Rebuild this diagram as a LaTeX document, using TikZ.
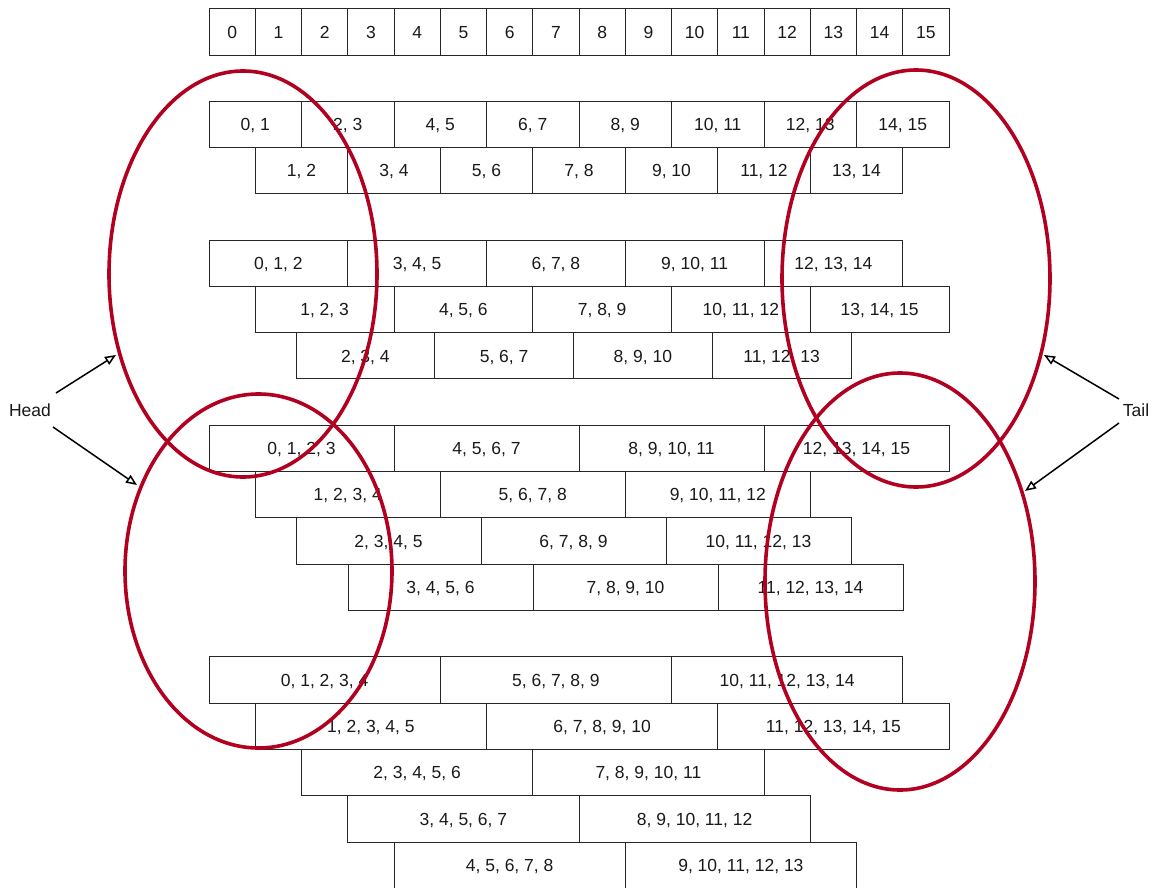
\documentclass[tikz,border=0pt]{standalone}
\usepackage{fontspec}
\setmainfont{Liberation Sans}
\usetikzlibrary{arrows.meta}
\definecolor{ellred}{RGB}{178,0,32}
\tikzset{
  cell/.style={draw=black!85, line width=0.9pt, anchor=north west, outer sep=0pt,
    minimum height=46.3pt, inner sep=0pt, text height=12.5pt, text depth=0pt,
    font=\fontsize{17.5}{20}\selectfont, text=black!90},
  ring/.style={draw=ellred, line width=3.6pt},
  pointer/.style={draw=black, line width=1.5pt, -{Triangle[open, length=11pt, width=9pt]}},
  lbl/.style={font=\fontsize{17.5}{20}\selectfont, text=black!90, inner sep=0pt}
}
\newcommand\cellrow[5]{%
  \foreach \t [count=\i from 0] in {#5} {
    \node[cell, minimum width=#4pt] (#1\i) at ({#3+\i*#4}, #2) {\t};
  }}
\begin{document}
\begin{tikzpicture}[x=1pt, y=-1pt]
\useasboundingbox (0,0) rectangle (1157,888);
% singles
\cellrow{a}{8.7}{209}{46.25}{0,1,2,3,4,5,6,7,8,9,10,11,12,13,14,15}
% pairs
\cellrow{ba}{101.3}{209}{92.5}{{0, 1},{2, 3},{4, 5},{6, 7},{8, 9},{10, 11},{12, 13},{14, 15}}
\cellrow{bb}{147.6}{255.25}{92.5}{{1, 2},{3, 4},{5, 6},{7, 8},{9, 10},{11, 12},{13, 14}}
% triples
\cellrow{ca}{240}{209}{138.75}{{0, 1, 2},{3, 4, 5},{6, 7, 8},{9, 10, 11},{12, 13, 14}}
\cellrow{cb}{286.3}{255.25}{138.75}{{1, 2, 3},{4, 5, 6},{7, 8, 9},{10, 11, 12},{13, 14, 15}}
\cellrow{cc}{332.6}{296}{138.75}{{2, 3, 4},{5, 6, 7},{8, 9, 10},{11, 12, 13}}
% quads
\cellrow{da}{425}{209}{185}{{0, 1, 2, 3},{4, 5, 6, 7},{8, 9, 10, 11},{12, 13, 14, 15}}
\cellrow{db}{471.4}{255.25}{185}{{1, 2, 3, 4},{5, 6, 7, 8},{9, 10, 11, 12}}
\cellrow{dc}{517.8}{296}{185}{{2, 3, 4, 5},{6, 7, 8, 9},{10, 11, 12, 13}}
\cellrow{dd}{564.2}{348}{185}{{3, 4, 5, 6},{7, 8, 9, 10},{11, 12, 13, 14}}
% quints
\cellrow{ea}{656.8}{209}{231.25}{{0, 1, 2, 3, 4},{5, 6, 7, 8, 9},{10, 11, 12, 13, 14}}
\cellrow{eb}{703.1}{255.25}{231.25}{{1, 2, 3, 4, 5},{6, 7, 8, 9, 10},{11, 12, 13, 14, 15}}
\cellrow{ec}{749.4}{301.5}{231.25}{{2, 3, 4, 5, 6},{7, 8, 9, 10, 11}}
\cellrow{ed}{795.7}{347.75}{231.25}{{3, 4, 5, 6, 7},{8, 9, 10, 11, 12}}
\cellrow{ee}{842.1}{394}{231.25}{{4, 5, 6, 7, 8},{9, 10, 11, 12, 13}}
% ellipses
\draw[ring] (243,274) ellipse [x radius=134pt, y radius=203pt];
\draw[ring] (258.5,571) ellipse [x radius=133.5pt, y radius=177pt];
\draw[ring] (916,278.5) ellipse [x radius=134pt, y radius=208.5pt];
\draw[ring] (900,581.5) ellipse [x radius=135pt, y radius=208.5pt];
% labels and arrows
\node[lbl] (head) at (30,410) {Head};
\node[lbl] (tail) at (1136,410) {Tail};
\coordinate (h1s) at (56,393);
\coordinate (h1e) at (116,355);
\coordinate (h2s) at (53,427);
\coordinate (h2e) at (137,485);
\coordinate (t1s) at (1119,399);
\coordinate (t1e) at (1044,355);
\coordinate (t2s) at (1119,423);
\coordinate (t2e) at (1025,491);
\draw[pointer] (h1s) -- (h1e);
\draw[pointer] (h2s) -- (h2e);
\draw[pointer] (t1s) -- (t1e);
\draw[pointer] (t2s) -- (t2e);
\end{tikzpicture}
\end{document}
